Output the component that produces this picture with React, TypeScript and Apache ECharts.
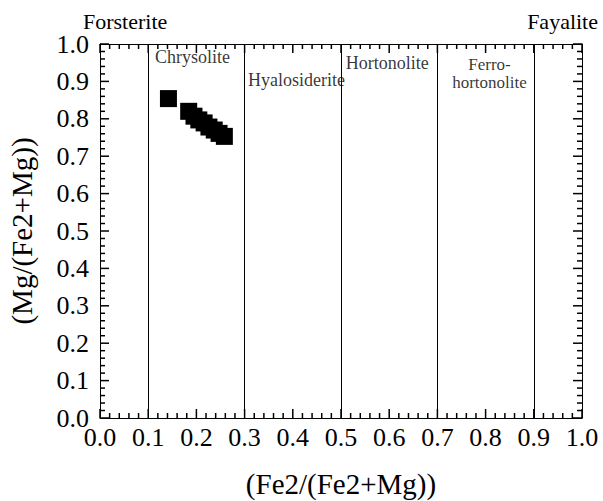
import React, { useEffect, useRef } from "react";
import * as echarts from "echarts";

// Olivine composition: Fe2/(Fe2+Mg) vs Mg/(Fe2+Mg)
const feRatio = [0.142, 0.184, 0.195, 0.205, 0.216, 0.226, 0.237, 0.247, 0.258];
const mgRatio = [0.854, 0.82, 0.807, 0.797, 0.789, 0.778, 0.77, 0.761, 0.753];

// Field boundaries along the Fe2/(Fe2+Mg) axis
const boundaries = [0.1, 0.3, 0.5, 0.7, 0.9];

// Field names with their anchor (left edge, middle) in data coordinates
const fieldNames = ["Chrysolite", "Hyalosiderite", "Hortonolite"];
const fieldX = [0.114, 0.307, 0.51];
const fieldY = [0.965, 0.905, 0.948];

// Two-line field name, centred
const ferroLines = ["Ferro-", "hortonolite"];
const ferroX = [0.808, 0.808];
const ferroY = [0.945, 0.898];

const endMembers = ["Forsterite", "Fayalite"];

// Major ticks on both axes; each interval is split into five minor steps
const majorTicks = [0, 0.1, 0.2, 0.3, 0.4, 0.5, 0.6, 0.7, 0.8, 0.9, 1.0];
const minorSplit = 5;

const FONT = "Times New Roman, Liberation Serif, serif";

// Tick marks: [value, isMajor]
const tickData: number[][] = [];
majorTicks.forEach((t, i) => {
  tickData.push([t, 1]);
  if (i < majorTicks.length - 1) {
    const step = (majorTicks[i + 1] - t) / minorSplit;
    for (let k = 1; k < minorSplit; k++) tickData.push([t + step * k, 0]);
  }
});

export default function App() {
  const ref = useRef<HTMLDivElement>(null);

  useEffect(() => {
    if (!ref.current) return;
    const chart = echarts.init(ref.current, undefined, { renderer: "svg" });

    const baseAxis = (pos: string) => ({
      type: "value",
      position: pos,
      min: 0,
      max: 1,
      interval: 0.1,
      axisLine: { show: true, onZero: false, lineStyle: { color: "#000", width: 1 } },
      axisTick: { show: false },
      minorTick: { show: false },
      splitLine: { show: false },
      axisLabel: { show: false },
    });

    const tickLabel = {
      show: true,
      color: "#000",
      fontFamily: FONT,
      fontSize: 26,
      formatter: (v: number) => v.toFixed(1),
    };

    const option: any = {
      animation: false,
      backgroundColor: "#fff",
      textStyle: { fontFamily: FONT },
      grid: { left: 100, right: 21, top: 44, bottom: 83, outerBoundsMode: "none", containLabel: false },
      xAxis: [
        {
          ...baseAxis("bottom"),
          axisLabel: { ...tickLabel, margin: 6 },
          name: "(Fe2/(Fe2+Mg))",
          nameLocation: "middle",
          nameGap: 51,
          nameTextStyle: { color: "#000", fontFamily: FONT, fontSize: 29 },
        },
        baseAxis("top"),
      ],
      yAxis: [
        {
          ...baseAxis("left"),
          axisLabel: { ...tickLabel, margin: 11 },
          name: "(Mg/(Fe2+Mg))",
          nameLocation: "middle",
          nameGap: 64,
          nameRotate: 90,
          nameTextStyle: { color: "#000", fontFamily: FONT, fontSize: 29 },
        },
        baseAxis("right"),
      ],
      graphic: [
        {
          type: "text",
          left: 83,
          top: 10,
          style: { text: endMembers[0], fontFamily: FONT, fontSize: 22, fill: "#000" },
        },
        {
          type: "text",
          right: 5,
          top: 10,
          style: { text: endMembers[1], fontFamily: FONT, fontSize: 22, fill: "#000" },
        },
      ],
      series: [
        {
          // inward ticks on all four sides of the frame
          type: "custom",
          silent: true,
          clip: false,
          z: 10,
          xAxisIndex: 0,
          yAxisIndex: 0,
          data: tickData,
          renderItem: (_params: any, api: any) => {
            const v = api.value(0);
            const len = api.value(1) ? 9 : 5;
            const b = api.coord([v, 0]);
            const t = api.coord([v, 1]);
            const l = api.coord([0, v]);
            const r = api.coord([1, v]);
            const st = { stroke: "#000", lineWidth: 1.5, fill: null };
            return {
              type: "group",
              children: [
                { type: "line", shape: { x1: b[0], y1: b[1], x2: b[0], y2: b[1] - len }, style: st },
                { type: "line", shape: { x1: t[0], y1: t[1], x2: t[0], y2: t[1] + len }, style: st },
                { type: "line", shape: { x1: l[0], y1: l[1], x2: l[0] + len, y2: l[1] }, style: st },
                { type: "line", shape: { x1: r[0], y1: r[1], x2: r[0] - len, y2: r[1] }, style: st },
              ],
            };
          },
        },
        {
          type: "line",
          data: [],
          silent: true,
          markLine: {
            symbol: "none",
            silent: true,
            label: { show: false },
            lineStyle: { color: "#000", width: 1, type: "solid" },
            data: boundaries.map((b) => ({ xAxis: b })),
          },
        },
        {
          type: "scatter",
          silent: true,
          symbolSize: 0,
          data: fieldNames.map((n, i) => ({ name: n, value: [fieldX[i], fieldY[i]] })),
          label: {
            show: true,
            position: "right",
            distance: 0,
            formatter: (p: any) => p.name,
            color: "#000",
            fontFamily: FONT,
            fontSize: 18,
          },
        },
        {
          type: "scatter",
          silent: true,
          symbolSize: 0,
          data: ferroLines.map((n, i) => ({ name: n, value: [ferroX[i], ferroY[i]] })),
          label: {
            show: true,
            position: "inside",
            formatter: (p: any) => p.name,
            color: "#000",
            fontFamily: FONT,
            fontSize: 17,
            lineHeight: 16,
            align: "center",
          },
        },
        {
          type: "scatter",
          symbol: "rect",
          symbolSize: 17,
          itemStyle: { color: "#000", opacity: 1 },
          data: feRatio.map((x, i) => [x, mgRatio[i]]),
        },
      ],
    };

    chart.setOption(option);
    return () => chart.dispose();
  }, []);

  return (
    <div
      ref={ref}
      style={{ position: "fixed", left: 0, top: 0, width: 603, height: 501, background: "#fff" }}
    />
  );
}
